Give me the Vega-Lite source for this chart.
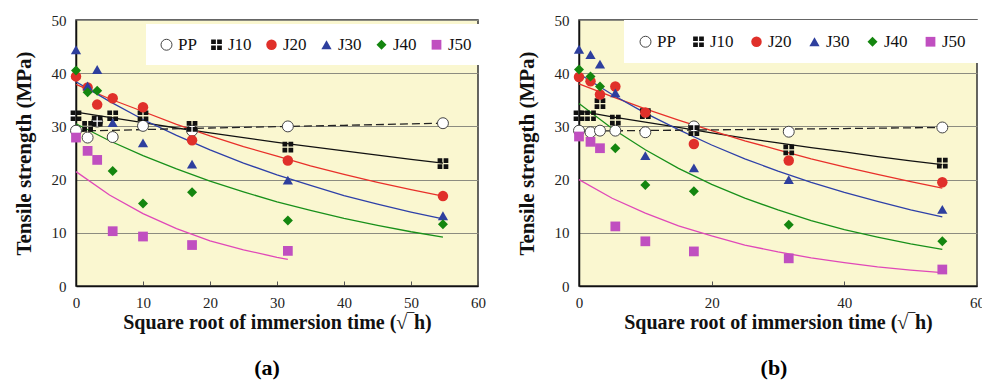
{
  "$schema": "https://vega.github.io/schema/vega-lite/v6.json",
  "padding": {"left": 12, "top": 12, "right": 4, "bottom": 0},
  "background": "white",
  "datasets": {
    "pts": [
      {"panel":"a","series":"PP","x":0,"y":29.2},{"panel":"a","series":"PP","x":1.732,"y":27.9},{"panel":"a","series":"PP","x":3.162,"y":30.9},{"panel":"a","series":"PP","x":5.477,"y":28.0},{"panel":"a","series":"PP","x":10,"y":30.1},{"panel":"a","series":"PP","x":17.32,"y":29.2},{"panel":"a","series":"PP","x":31.62,"y":30.0},{"panel":"a","series":"PP","x":54.77,"y":30.6},
      {"panel":"a","series":"J10","x":0,"y":32.0},{"panel":"a","series":"J10","x":1.732,"y":30.0},{"panel":"a","series":"J10","x":3.162,"y":31.0},{"panel":"a","series":"J10","x":5.477,"y":32.0},{"panel":"a","series":"J10","x":10,"y":32.0},{"panel":"a","series":"J10","x":17.32,"y":30.0},{"panel":"a","series":"J10","x":31.62,"y":26.1},{"panel":"a","series":"J10","x":54.77,"y":23.0},
      {"panel":"a","series":"J20","x":0,"y":39.4},{"panel":"a","series":"J20","x":1.732,"y":37.3},{"panel":"a","series":"J20","x":3.162,"y":34.1},{"panel":"a","series":"J20","x":5.477,"y":35.3},{"panel":"a","series":"J20","x":10,"y":33.6},{"panel":"a","series":"J20","x":17.32,"y":27.4},{"panel":"a","series":"J20","x":31.62,"y":23.6},{"panel":"a","series":"J20","x":54.77,"y":16.9},
      {"panel":"a","series":"J30","x":0,"y":44.4},{"panel":"a","series":"J30","x":1.732,"y":37.6},{"panel":"a","series":"J30","x":3.162,"y":40.7},{"panel":"a","series":"J30","x":5.477,"y":30.7},{"panel":"a","series":"J30","x":10,"y":26.9},{"panel":"a","series":"J30","x":17.32,"y":22.9},{"panel":"a","series":"J30","x":31.62,"y":19.9},{"panel":"a","series":"J30","x":54.77,"y":13.2},
      {"panel":"a","series":"J40","x":0,"y":40.5},{"panel":"a","series":"J40","x":1.732,"y":36.4},{"panel":"a","series":"J40","x":3.162,"y":36.7},{"panel":"a","series":"J40","x":5.477,"y":21.6},{"panel":"a","series":"J40","x":10,"y":15.5},{"panel":"a","series":"J40","x":17.32,"y":17.6},{"panel":"a","series":"J40","x":31.62,"y":12.3},{"panel":"a","series":"J40","x":54.77,"y":11.6},
      {"panel":"a","series":"J50","x":0,"y":27.9},{"panel":"a","series":"J50","x":1.732,"y":25.4},{"panel":"a","series":"J50","x":3.162,"y":23.7},{"panel":"a","series":"J50","x":5.477,"y":10.3},{"panel":"a","series":"J50","x":10,"y":9.3},{"panel":"a","series":"J50","x":17.32,"y":7.7},{"panel":"a","series":"J50","x":31.62,"y":6.6},
      {"panel":"b","series":"PP","x":0,"y":29.2},{"panel":"b","series":"PP","x":1.732,"y":28.9},{"panel":"b","series":"PP","x":3.162,"y":29.2},{"panel":"b","series":"PP","x":5.477,"y":29.2},{"panel":"b","series":"PP","x":10,"y":28.9},{"panel":"b","series":"PP","x":17.32,"y":30.0},{"panel":"b","series":"PP","x":31.62,"y":29.0},{"panel":"b","series":"PP","x":54.77,"y":29.8},
      {"panel":"b","series":"J10","x":0,"y":32.0},{"panel":"b","series":"J10","x":1.732,"y":32.0},{"panel":"b","series":"J10","x":3.162,"y":34.3},{"panel":"b","series":"J10","x":5.477,"y":31.2},{"panel":"b","series":"J10","x":10,"y":32.4},{"panel":"b","series":"J10","x":17.32,"y":29.2},{"panel":"b","series":"J10","x":31.62,"y":25.6},{"panel":"b","series":"J10","x":54.77,"y":23.1},
      {"panel":"b","series":"J20","x":0,"y":39.3},{"panel":"b","series":"J20","x":1.732,"y":38.5},{"panel":"b","series":"J20","x":3.162,"y":36.0},{"panel":"b","series":"J20","x":5.477,"y":37.5},{"panel":"b","series":"J20","x":10,"y":32.6},{"panel":"b","series":"J20","x":17.32,"y":26.7},{"panel":"b","series":"J20","x":31.62,"y":23.6},{"panel":"b","series":"J20","x":54.77,"y":19.5},
      {"panel":"b","series":"J30","x":0,"y":44.5},{"panel":"b","series":"J30","x":1.732,"y":43.5},{"panel":"b","series":"J30","x":3.162,"y":41.7},{"panel":"b","series":"J30","x":5.477,"y":36.3},{"panel":"b","series":"J30","x":10,"y":24.5},{"panel":"b","series":"J30","x":17.32,"y":22.2},{"panel":"b","series":"J30","x":31.62,"y":20.0},{"panel":"b","series":"J30","x":54.77,"y":14.4},
      {"panel":"b","series":"J40","x":0,"y":40.7},{"panel":"b","series":"J40","x":1.732,"y":39.4},{"panel":"b","series":"J40","x":3.162,"y":37.5},{"panel":"b","series":"J40","x":5.477,"y":25.9},{"panel":"b","series":"J40","x":10,"y":19.0},{"panel":"b","series":"J40","x":17.32,"y":17.8},{"panel":"b","series":"J40","x":31.62,"y":11.5},{"panel":"b","series":"J40","x":54.77,"y":8.4},
      {"panel":"b","series":"J50","x":0,"y":28.1},{"panel":"b","series":"J50","x":1.732,"y":27.1},{"panel":"b","series":"J50","x":3.162,"y":25.9},{"panel":"b","series":"J50","x":5.477,"y":11.2},{"panel":"b","series":"J50","x":10,"y":8.4},{"panel":"b","series":"J50","x":17.32,"y":6.5},{"panel":"b","series":"J50","x":31.62,"y":5.2},{"panel":"b","series":"J50","x":54.77,"y":3.1}
    ],
    "fits": [
      {"panel":"a","series":"PP","x":0,"y":29.1},{"panel":"a","series":"PP","x":10,"y":29.4},{"panel":"a","series":"PP","x":20,"y":29.7},{"panel":"a","series":"PP","x":30,"y":29.95},{"panel":"a","series":"PP","x":40,"y":30.2},{"panel":"a","series":"PP","x":54.77,"y":30.6},
      {"panel":"a","series":"J10","x":0,"y":32.7},{"panel":"a","series":"J10","x":5,"y":31.7},{"panel":"a","series":"J10","x":10,"y":30.7},{"panel":"a","series":"J10","x":15,"y":29.7},{"panel":"a","series":"J10","x":20,"y":28.8},{"panel":"a","series":"J10","x":25,"y":27.9},{"panel":"a","series":"J10","x":30,"y":27.0},{"panel":"a","series":"J10","x":35,"y":26.2},{"panel":"a","series":"J10","x":40,"y":25.4},{"panel":"a","series":"J10","x":45,"y":24.6},{"panel":"a","series":"J10","x":50,"y":23.8},{"panel":"a","series":"J10","x":54.77,"y":23.1},
      {"panel":"a","series":"J20","x":0,"y":37.9},{"panel":"a","series":"J20","x":5,"y":35.2},{"panel":"a","series":"J20","x":10,"y":32.8},{"panel":"a","series":"J20","x":15,"y":30.4},{"panel":"a","series":"J20","x":20,"y":28.2},{"panel":"a","series":"J20","x":25,"y":26.2},{"panel":"a","series":"J20","x":30,"y":24.4},{"panel":"a","series":"J20","x":35,"y":22.6},{"panel":"a","series":"J20","x":40,"y":21.0},{"panel":"a","series":"J20","x":45,"y":19.5},{"panel":"a","series":"J20","x":50,"y":18.1},{"panel":"a","series":"J20","x":54.77,"y":16.9},
      {"panel":"a","series":"J30","x":0,"y":38.4},{"panel":"a","series":"J30","x":5,"y":34.7},{"panel":"a","series":"J30","x":10,"y":31.3},{"panel":"a","series":"J30","x":15,"y":28.3},{"panel":"a","series":"J30","x":20,"y":25.6},{"panel":"a","series":"J30","x":25,"y":23.1},{"panel":"a","series":"J30","x":30,"y":20.9},{"panel":"a","series":"J30","x":35,"y":18.9},{"panel":"a","series":"J30","x":40,"y":17.0},{"panel":"a","series":"J30","x":45,"y":15.4},{"panel":"a","series":"J30","x":50,"y":13.9},{"panel":"a","series":"J30","x":54.77,"y":12.6},
      {"panel":"a","series":"J40","x":0,"y":30.5},{"panel":"a","series":"J40","x":5,"y":27.3},{"panel":"a","series":"J40","x":10,"y":24.5},{"panel":"a","series":"J40","x":15,"y":22.0},{"panel":"a","series":"J40","x":20,"y":19.7},{"panel":"a","series":"J40","x":25,"y":17.7},{"panel":"a","series":"J40","x":30,"y":15.8},{"panel":"a","series":"J40","x":35,"y":14.2},{"panel":"a","series":"J40","x":40,"y":12.7},{"panel":"a","series":"J40","x":45,"y":11.4},{"panel":"a","series":"J40","x":50,"y":10.2},{"panel":"a","series":"J40","x":54.77,"y":9.2},
      {"panel":"a","series":"J50","x":0,"y":21.5},{"panel":"a","series":"J50","x":5,"y":17.1},{"panel":"a","series":"J50","x":10,"y":13.6},{"panel":"a","series":"J50","x":15,"y":10.8},{"panel":"a","series":"J50","x":20,"y":8.5},{"panel":"a","series":"J50","x":25,"y":6.8},{"panel":"a","series":"J50","x":30,"y":5.4},{"panel":"a","series":"J50","x":31.62,"y":5.0},
      {"panel":"b","series":"PP","x":0,"y":29.1},{"panel":"b","series":"PP","x":20,"y":29.35},{"panel":"b","series":"PP","x":40,"y":29.6},{"panel":"b","series":"PP","x":54.77,"y":29.8},
      {"panel":"b","series":"J10","x":0,"y":32.9},{"panel":"b","series":"J10","x":5,"y":31.8},{"panel":"b","series":"J10","x":10,"y":30.8},{"panel":"b","series":"J10","x":15,"y":29.8},{"panel":"b","series":"J10","x":20,"y":28.8},{"panel":"b","series":"J10","x":25,"y":27.8},{"panel":"b","series":"J10","x":30,"y":26.9},{"panel":"b","series":"J10","x":35,"y":26.0},{"panel":"b","series":"J10","x":40,"y":25.2},{"panel":"b","series":"J10","x":45,"y":24.3},{"panel":"b","series":"J10","x":50,"y":23.5},{"panel":"b","series":"J10","x":54.77,"y":22.8},
      {"panel":"b","series":"J20","x":0,"y":38.0},{"panel":"b","series":"J20","x":5,"y":35.6},{"panel":"b","series":"J20","x":10,"y":33.3},{"panel":"b","series":"J20","x":15,"y":31.2},{"panel":"b","series":"J20","x":20,"y":29.2},{"panel":"b","series":"J20","x":25,"y":27.3},{"panel":"b","series":"J20","x":30,"y":25.6},{"panel":"b","series":"J20","x":35,"y":23.9},{"panel":"b","series":"J20","x":40,"y":22.4},{"panel":"b","series":"J20","x":45,"y":21.0},{"panel":"b","series":"J20","x":50,"y":19.6},{"panel":"b","series":"J20","x":54.77,"y":18.4},
      {"panel":"b","series":"J30","x":0,"y":39.9},{"panel":"b","series":"J30","x":5,"y":36.0},{"panel":"b","series":"J30","x":10,"y":32.5},{"panel":"b","series":"J30","x":15,"y":29.4},{"panel":"b","series":"J30","x":20,"y":26.5},{"panel":"b","series":"J30","x":25,"y":23.9},{"panel":"b","series":"J30","x":30,"y":21.6},{"panel":"b","series":"J30","x":35,"y":19.5},{"panel":"b","series":"J30","x":40,"y":17.6},{"panel":"b","series":"J30","x":45,"y":15.9},{"panel":"b","series":"J30","x":50,"y":14.3},{"panel":"b","series":"J30","x":54.77,"y":13.0},
      {"panel":"b","series":"J40","x":0,"y":34.3},{"panel":"b","series":"J40","x":5,"y":29.6},{"panel":"b","series":"J40","x":10,"y":25.6},{"panel":"b","series":"J40","x":15,"y":22.1},{"panel":"b","series":"J40","x":20,"y":19.1},{"panel":"b","series":"J40","x":25,"y":16.5},{"panel":"b","series":"J40","x":30,"y":14.3},{"panel":"b","series":"J40","x":35,"y":12.3},{"panel":"b","series":"J40","x":40,"y":10.6},{"panel":"b","series":"J40","x":45,"y":9.2},{"panel":"b","series":"J40","x":50,"y":7.9},{"panel":"b","series":"J40","x":54.77,"y":6.9},
      {"panel":"b","series":"J50","x":0,"y":20.0},{"panel":"b","series":"J50","x":5,"y":16.5},{"panel":"b","series":"J50","x":10,"y":13.7},{"panel":"b","series":"J50","x":15,"y":11.3},{"panel":"b","series":"J50","x":20,"y":9.4},{"panel":"b","series":"J50","x":25,"y":7.7},{"panel":"b","series":"J50","x":30,"y":6.4},{"panel":"b","series":"J50","x":35,"y":5.3},{"panel":"b","series":"J50","x":40,"y":4.4},{"panel":"b","series":"J50","x":45,"y":3.6},{"panel":"b","series":"J50","x":50,"y":3.0},{"panel":"b","series":"J50","x":54.77,"y":2.5}
    ]
  },
  "hconcat": [
    {
      "width": 402,
      "height": 266,
      "title": {"text": "(a)", "orient": "bottom", "fontSize": 22, "fontWeight": "bold", "font": "Liberation Serif", "offset": 26, "dx": -10},
      "layer": [
        {
          "data": {"name": "fits"},
          "transform": [{"filter": "datum.panel === 'a' && datum.series !== 'PP'"}],
          "mark": {"type": "line", "strokeWidth": 1.3},
          "encoding": {
            "x": {"field": "x", "type": "quantitative", "scale": {"domain": [0, 60], "nice": false},
                  "axis": {"values": [0,10,20,30,40,50,60], "title": "Square root of immersion time (√‾h)"}},
            "y": {"field": "y", "type": "quantitative", "scale": {"domain": [0, 50], "nice": false},
                  "axis": {"values": [0,10,20,30,40,50], "title": "Tensile strength (MPa)"}},
            "color": {"field": "series", "type": "nominal", "legend": null,
                      "scale": {"domain": ["J10","J20","J30","J40","J50"], "range": ["#111111","#E8302A","#2E40A8","#18901A","#E048B8"]}}
          }
        },
        {
          "data": {"name": "fits"},
          "transform": [{"filter": "datum.panel === 'a' && datum.series === 'PP'"}],
          "mark": {"type": "line", "strokeWidth": 1.3, "color": "#222222", "strokeDash": [8, 4]},
          "encoding": {
            "x": {"field": "x", "type": "quantitative"},
            "y": {"field": "y", "type": "quantitative"}
          }
        },
        {
          "data": {"name": "pts"},
          "transform": [{"filter": "datum.panel === 'a'"}],
          "mark": {"type": "point", "filled": true, "strokeWidth": 1, "opacity": 1},
          "encoding": {
            "x": {"field": "x", "type": "quantitative"},
            "y": {"field": "y", "type": "quantitative"},
            "fill": {"field": "series", "type": "nominal", "title": null,
                     "scale": {"domain": ["PP","J10","J20","J30","J40","J50"], "range": ["#FFFFFF","#111111","#E0302A","#2E3F9E","#14860F","#C04FC0"]},
                     "legend": {"orient": "none", "legendX": 70, "legendY": 4, "direction": "horizontal", "fillColor": "white", "padding": 12, "columnPadding": 11, "labelFont": "Liberation Serif", "labelFontSize": 17, "labelColor": "#111", "labelOffset": 3, "symbolOpacity": 1, "symbolStrokeWidth": 1}},
            "stroke": {"field": "series", "type": "nominal", "title": null,
                     "scale": {"domain": ["PP","J10","J20","J30","J40","J50"], "range": ["#444444","transparent","transparent","transparent","transparent","transparent"]}},
            "shape": {"field": "series", "type": "nominal", "title": null,
                     "scale": {"domain": ["PP","J10","J20","J30","J40","J50"], "range": ["circle","M-1,-1H-0.12V-0.12H-1Z M0.12,-1H1V-0.12H0.12Z M-1,0.12H-0.12V1H-1Z M0.12,0.12H1V1H0.12Z","circle","triangle-up","diamond","square"]}},
            "size": {"field": "series", "type": "nominal", "title": null,
                     "scale": {"domain": ["PP","J10","J20","J30","J40","J50"], "range": [120, 95, 120, 150, 110, 95]}}
          }
        }
      ]
    },
    {
      "width": 398,
      "height": 266,
      "title": {"text": "(b)", "orient": "bottom", "fontSize": 22, "fontWeight": "bold", "font": "Liberation Serif", "offset": 26, "dx": -4},
      "layer": [
        {
          "data": {"name": "fits"},
          "transform": [{"filter": "datum.panel === 'b' && datum.series !== 'PP'"}],
          "mark": {"type": "line", "strokeWidth": 1.3},
          "encoding": {
            "x": {"field": "x", "type": "quantitative", "scale": {"domain": [0, 60], "nice": false},
                  "axis": {"values": [0,20,40,60], "title": "Square root of immersion time (√‾h)"}},
            "y": {"field": "y", "type": "quantitative", "scale": {"domain": [0, 50], "nice": false},
                  "axis": {"values": [0,10,20,30,40,50], "title": "Tensile strength (MPa)"}},
            "color": {"field": "series", "type": "nominal", "legend": null,
                      "scale": {"domain": ["J10","J20","J30","J40","J50"], "range": ["#111111","#E8302A","#2E40A8","#18901A","#E048B8"]}}
          }
        },
        {
          "data": {"name": "fits"},
          "transform": [{"filter": "datum.panel === 'b' && datum.series === 'PP'"}],
          "mark": {"type": "line", "strokeWidth": 1.3, "color": "#222222", "strokeDash": [8, 4]},
          "encoding": {
            "x": {"field": "x", "type": "quantitative"},
            "y": {"field": "y", "type": "quantitative"}
          }
        },
        {
          "data": {"name": "pts"},
          "transform": [{"filter": "datum.panel === 'b'"}],
          "mark": {"type": "point", "filled": true, "strokeWidth": 1, "opacity": 1},
          "encoding": {
            "x": {"field": "x", "type": "quantitative"},
            "y": {"field": "y", "type": "quantitative"},
            "fill": {"field": "series", "type": "nominal", "title": null,
                     "scale": {"domain": ["PP","J10","J20","J30","J40","J50"], "range": ["#FFFFFF","#111111","#E0302A","#2E3F9E","#14860F","#C04FC0"]},
                     "legend": {"orient": "none", "legendX": 45, "legendY": 0, "direction": "horizontal", "fillColor": "white", "padding": 13, "columnPadding": 14, "labelFont": "Liberation Serif", "labelFontSize": 17, "labelColor": "#111", "labelOffset": 3, "symbolOpacity": 1, "symbolStrokeWidth": 1}},
            "stroke": {"field": "series", "type": "nominal", "title": null,
                     "scale": {"domain": ["PP","J10","J20","J30","J40","J50"], "range": ["#444444","transparent","transparent","transparent","transparent","transparent"]}},
            "shape": {"field": "series", "type": "nominal", "title": null,
                     "scale": {"domain": ["PP","J10","J20","J30","J40","J50"], "range": ["circle","M-1,-1H-0.12V-0.12H-1Z M0.12,-1H1V-0.12H0.12Z M-1,0.12H-0.12V1H-1Z M0.12,0.12H1V1H0.12Z","circle","triangle-up","diamond","square"]}},
            "size": {"field": "series", "type": "nominal", "title": null,
                     "scale": {"domain": ["PP","J10","J20","J30","J40","J50"], "range": [120, 95, 120, 150, 110, 95]}}
          }
        }
      ]
    }
  ],
  "resolve": {
    "scale": {"fill": "independent", "stroke": "independent", "shape": "independent", "size": "independent", "color": "independent"}
  },
  "spacing": 28,
  "config": {
    "font": "Liberation Serif",
    "view": {"fill": "#FAF7D0", "stroke": "#333333", "strokeWidth": 1.5},
    "axis": {
      "labelFont": "Liberation Serif", "labelFontSize": 15, "labelColor": "#222",
      "titleFont": "Liberation Serif", "titleFontSize": 20, "titleFontWeight": "bold", "titleColor": "#111",
      "domainColor": "#111", "domainWidth": 1.5
    },
    "axisX": {"grid": false, "ticks": true, "tickSize": -5, "tickColor": "#555", "labelPadding": 14, "titlePadding": 2, "labelFlush": false},
    "axisY": {"grid": true, "gridColor": "#8C8C80", "gridWidth": 1.2, "ticks": false, "labelPadding": 10, "titlePadding": 17, "titleFontSize": 21, "labelFlush": false}
  }
}
